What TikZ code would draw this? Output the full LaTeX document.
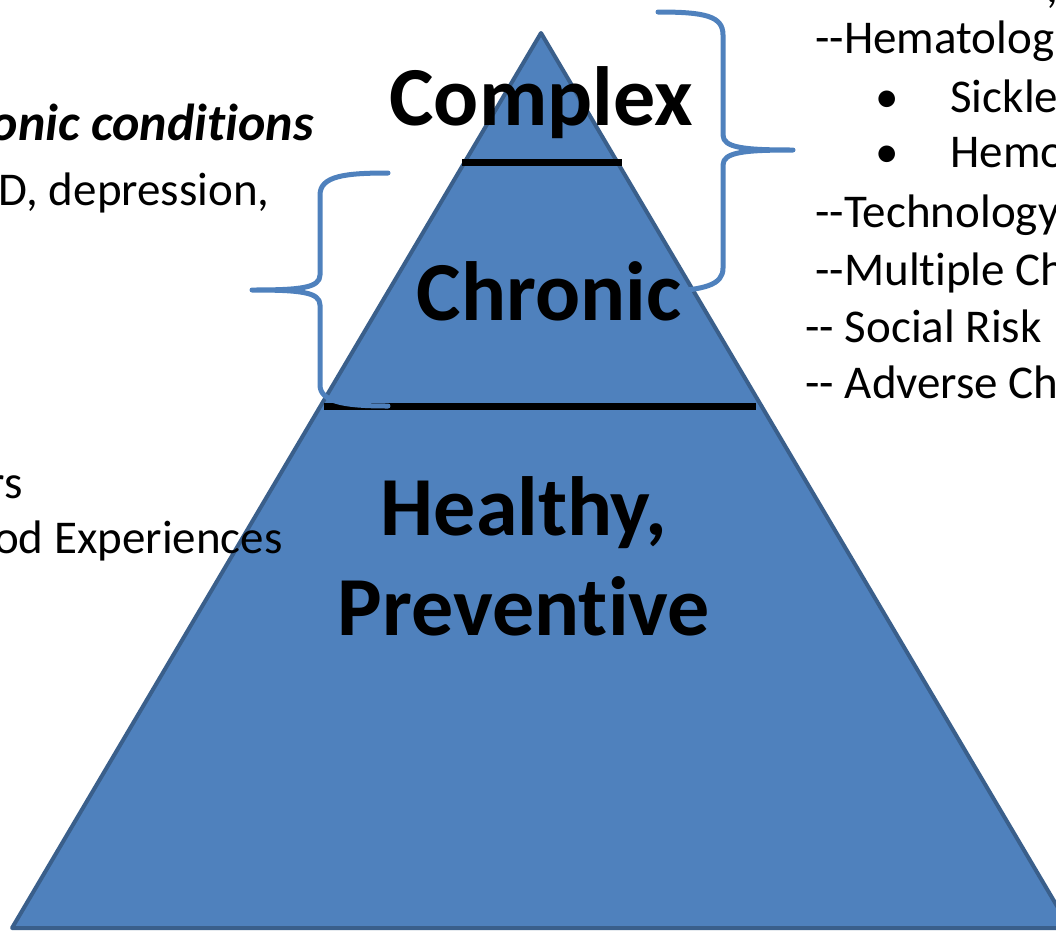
\documentclass[tikz,border=0pt]{standalone}
\usepackage{fontspec}
\setmainfont{Carlito}[Ligatures=NoCommon]
\usepackage{xcolor}
\usepackage{tikz}
\usetikzlibrary{calc}
\definecolor{pyrfill}{HTML}{4F81BD}
\definecolor{pyredge}{HTML}{3A5F8B}

\begin{document}
\begin{tikzpicture}[x=1pt, y=-1pt, thick, color=black,
		level/.style={font=\fontsize{84}{100}\selectfont\bfseries, inner sep=0pt},
		item/.style={font=\fontsize{47}{56}\selectfont, inner sep=0pt},
		brace/.style={draw=pyrfill, line width=5pt, line cap=round, line join=round}]
		\useasboundingbox (0,0) rectangle (1056,932);
		\clip (0,0) rectangle (1056,932);
		
		% pyramid and level lines
		\coordinate (apex) at (541,33);
		\coordinate (bl) at (12,928);
		\coordinate (br) at (1070,928);
		\draw[fill=pyrfill, draw=pyredge, line width=4pt, line join=round] (apex) -- (bl) -- (br) -- cycle;
		\draw[line width=7pt] (462,162) -- (622,162);
		\draw[line width=7pt] (324,406) -- (756,406);
		
		% braces
		\draw[brace] (388,173) .. controls (345,173) and (320,176) .. (320,195) -- (320,275)
			.. controls (320,288) and (300,290) .. (252,290)
			.. controls (300,290) and (320,292) .. (320,305) -- (320,385)
			.. controls (320,402) and (345,406) .. (388,406);
		\draw[brace] (658,12) .. controls (705,12) and (723,16) .. (723,35) -- (723,135)
			.. controls (723,148) and (745,150) .. (793,150)
			.. controls (745,150) and (723,152) .. (723,165) -- (723,268)
			.. controls (723,285) and (705,290) .. (660,292);
		
		% levels
		\node[level, anchor=base] (complex) at (541,125) {Complex};
		\node[level, anchor=base] (chronic) at (549,320) {Chronic};
		\node[level, anchor=base] (healthy) at (524,535) {Healthy,};
		\node[level, anchor=base] (preventive) at (524,635) {Preventive};
		
		% left list
		\begin{scope}[item]
			\node[anchor=base east, font=\fontsize{52}{60}\selectfont\bfseries\itshape] (lhead) at (314,140) {onic conditions};
			\node[anchor=base east] (ldep) at (270,205) {D, depression,};
			\node[anchor=base east] (lrs) at (23,498) {rs};
			\node[anchor=base east] (lace) at (283,553) {od Experiences};
		\end{scope}
		
		% right list
		\begin{scope}[item]
			\node[anchor=base west] (rtop) at (1046,2) {,};
			\node[anchor=base west] (rhem) at (815,53) {-{}-Hematolog};
			\node[anchor=base] (rb1) at (887,112) {\textbullet};
			\node[anchor=base west] (rsic) at (950,112) {Sickle};
			\node[anchor=base] (rb2) at (887,167) {\textbullet};
			\node[anchor=base west] (rhmo) at (950,167) {Hemo};
			\node[anchor=base west] (rtec) at (815,227) {-{}-Technology};
			\node[anchor=base west] (rmul) at (815,285) {-{}-Multiple Ch};
			\node[anchor=base west] (rsoc) at (805,342) {-{}- Social Risk};
			\node[anchor=base west] (radv) at (805,398) {-{}- Adverse Ch};
		\end{scope}
	\end{tikzpicture}
\end{document}
